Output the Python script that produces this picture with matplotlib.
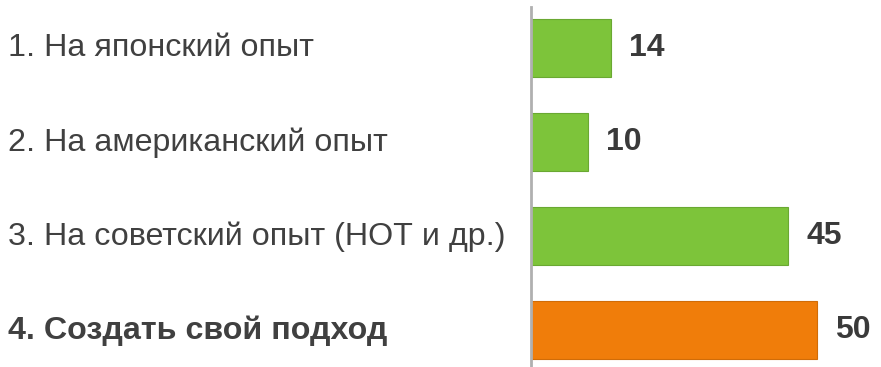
import matplotlib.pyplot as plt
import matplotlib.transforms as mtransforms

labels = ['1. На японский опыт', '2. На американский опыт',
          '3. На советский опыт (НОТ и др.)', '4. Создать свой подход']
values = [14, 10, 45, 50]
colors = ['#7dc43a', '#7dc43a', '#7dc43a', '#f07d0a']
edges = ['#6aa832', '#6aa832', '#6aa832', '#d06c08']
weights = ['normal', 'normal', 'normal', 'bold']

plt.rcParams['font.family'] = ['Liberation Sans', 'DejaVu Sans']

fig = plt.figure(figsize=(8.81, 3.67), dpi=100)
ax = fig.add_axes([531 / 881, 0, 350 / 881, 360 / 367])

pos = range(len(values))
ax.barh(pos, values, height=0.62, color=colors, edgecolor=edges, linewidth=0.8)
ax.set_xlim(0, 350 / 5.72)
ax.set_ylim(3.39, -0.44)

for s in ['top', 'right', 'bottom']:
    ax.spines[s].set_visible(False)
ax.spines['left'].set_color('#b0b0b0')
ax.spines['left'].set_linewidth(2)
ax.set_xticks([])
ax.set_yticks([])

# value labels to the right of each bar
for i, v in enumerate(values):
    ax.annotate(str(v), (v, i), xytext=(13, 0), textcoords='offset points',
                va='center', ha='left', fontsize=23, fontweight='bold',
                color='#3a3a3a')

# category labels on the left edge of the figure
trans = mtransforms.blended_transform_factory(fig.transFigure, ax.transData)
for i, lab in enumerate(labels):
    ax.text(8 / 881, i, lab, transform=trans, va='center', ha='left',
            fontsize=23.2, fontweight=weights[i], color='#404040', clip_on=False)

fig.savefig('out.png', dpi=100)
